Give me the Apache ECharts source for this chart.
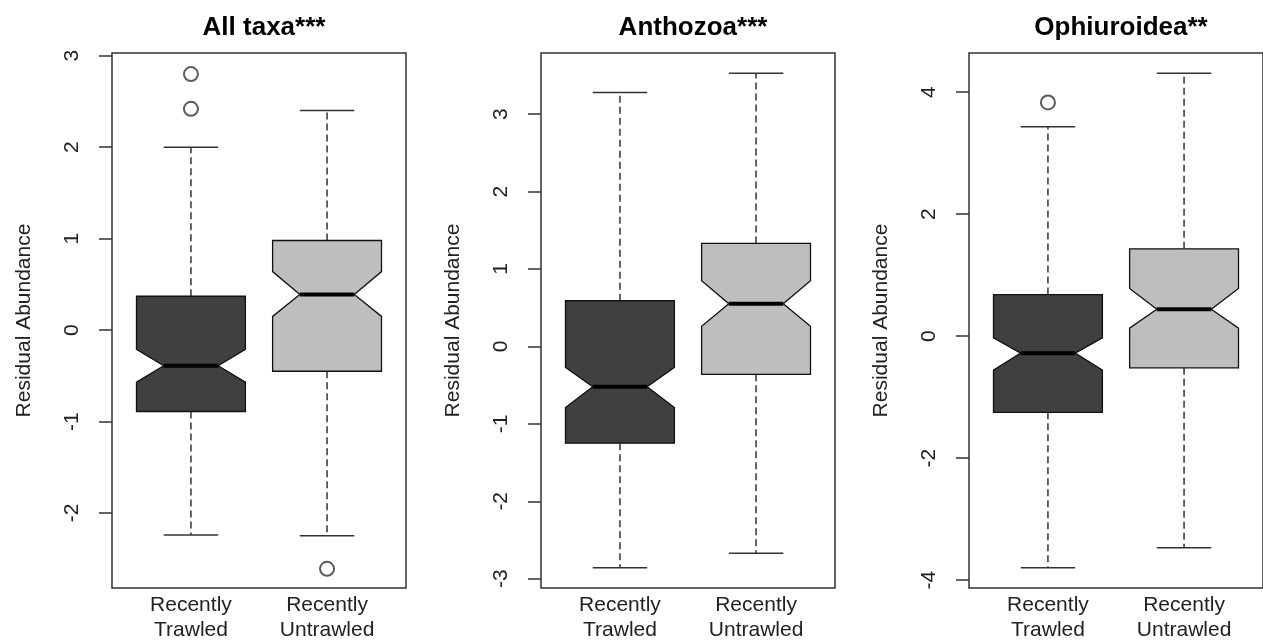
<!DOCTYPE html>
<html><head><meta charset="utf-8">
<script src="https://cdn.jsdelivr.net/npm/echarts@6/dist/echarts.min.js"></script>
<style>html,body{margin:0;padding:0;background:#fff}#c{width:1263px;height:640px}</style>
</head><body><div id="c"></div>
<script>
// ---- data ----
const panelTitles = ['All taxa***', 'Anthozoa***', 'Ophiuroidea**'];
const groupLabels = ['Recently\nTrawled', 'Recently\nUntrawled'];
const groupPositions = [1, 2];
// each: [lowerWhisker, Q1, notchLow, median, notchHigh, Q3, upperWhisker]
const allTaxaTrawled     = [-2.24, -0.89, -0.57, -0.39, -0.21, 0.37, 2.00];
const allTaxaUntrawled   = [-2.25, -0.45,  0.15,  0.39,  0.64, 0.98, 2.40];
const anthozoaTrawled    = [-2.86, -1.25, -0.79, -0.52, -0.27, 0.59, 3.28];
const anthozoaUntrawled  = [-2.67, -0.36,  0.26,  0.55,  0.85, 1.33, 3.53];
const ophiuroTrawled     = [-3.80, -1.25, -0.56, -0.28, -0.03, 0.68, 3.43];
const ophiuroUntrawled   = [-3.47, -0.52,  0.13,  0.44,  0.78, 1.43, 4.31];
// outliers: [groupPosition, value]
const allTaxaOutliers  = [[1, 2.80], [1, 2.42], [2, -2.61]];
const anthozoaOutliers = [];
const ophiuroOutliers  = [[1, 3.83]];
// y tick labels and axis limits
const allTaxaTicks  = [-2, -1, 0, 1, 2, 3];
const anthozoaTicks = [-3, -2, -1, 0, 1, 2, 3];
const ophiuroTicks  = [-4, -2, 0, 2, 4];
const allTaxaLimits  = [-2.82, 3.03];
const anthozoaLimits = [-3.12, 3.79];
const ophiuroLimits  = [-4.13, 4.64];
const xLimits = [0.42, 2.58];
const yName = 'Residual Abundance';

// ---- styles / layout ----
const fills = ['#404040', '#bebebe'];
const gridLefts = [112, 541, 969];
const gridWidth = 294;
const FONT = 'Liberation Sans, Arial, sans-serif';

const panels = [
  {boxes: [allTaxaTrawled, allTaxaUntrawled], out: allTaxaOutliers, ticks: allTaxaTicks, lim: allTaxaLimits},
  {boxes: [anthozoaTrawled, anthozoaUntrawled], out: anthozoaOutliers, ticks: anthozoaTicks, lim: anthozoaLimits},
  {boxes: [ophiuroTrawled, ophiuroUntrawled], out: ophiuroOutliers, ticks: ophiuroTicks, lim: ophiuroLimits}
];

function renderBox(params, api) {
  const x = api.value(0);
  const lw = api.value(1), q1 = api.value(2), nl = api.value(3), md = api.value(4),
        nh = api.value(5), q3 = api.value(6), uw = api.value(7);
  const hw = 0.4, nw = 0.2, cw = 0.2;
  const P = (a, b) => api.coord([a, b]);
  const wStyle = {stroke: '#333', lineWidth: 1.5, lineDash: [7, 4], fill: null};
  const cStyle = {stroke: '#333', lineWidth: 1.5, fill: null};
  const line = (p1, p2, style) => ({type: 'line', shape: {x1: p1[0], y1: p1[1], x2: p2[0], y2: p2[1]}, style: style});
  const pts = [P(x - hw, q1), P(x - hw, nl), P(x - nw, md), P(x - hw, nh), P(x - hw, q3),
               P(x + hw, q3), P(x + hw, nh), P(x + nw, md), P(x + hw, nl), P(x + hw, q1)];
  return {
    type: 'group',
    children: [
      line(P(x, q3), P(x, uw), wStyle),
      line(P(x, q1), P(x, lw), wStyle),
      line(P(x - cw, uw), P(x + cw, uw), cStyle),
      line(P(x - cw, lw), P(x + cw, lw), cStyle),
      {type: 'polygon', shape: {points: pts}, style: {fill: fills[params.dataIndex], stroke: '#111', lineWidth: 1.3}},
      line(P(x - nw, md), P(x + nw, md), {stroke: '#000', lineWidth: 4})
    ]
  };
}

const grid = [], xAxis = [], yAxis = [], series = [], title = [];
panels.forEach((p, i) => {
  grid.push({left: gridLefts[i], width: gridWidth, top: 53, bottom: 52, show: true, outerBoundsMode: 'none',
             containLabel: false, borderColor: '#333', borderWidth: 1.5, backgroundColor: 'transparent'});
  title.push({text: panelTitles[i], left: gridLefts[i] + gridWidth / 2, textAlign: 'center', top: 10,
              textStyle: {fontFamily: FONT, fontSize: 26, fontWeight: 'bold', color: '#000'}});
  xAxis.push({
    type: 'value', gridIndex: i, min: xLimits[0], max: xLimits[1],
    splitLine: {show: false}, axisLine: {show: false},
    axisTick: {show: true, customValues: groupPositions, length: 13, lineStyle: {color: '#333', width: 1.5}},
    axisLabel: {customValues: groupPositions, margin: 5, fontFamily: FONT, fontSize: 21, lineHeight: 25, color: '#222',
                formatter: v => groupLabels[groupPositions.indexOf(Math.round(v))] || ''}
  });
  yAxis.push({
    type: 'value', gridIndex: i, min: p.lim[0], max: p.lim[1],
    splitLine: {show: false}, axisLine: {show: false},
    axisTick: {show: true, customValues: p.ticks, length: 13, lineStyle: {color: '#333', width: 1.5}},
    axisLabel: {customValues: p.ticks, rotate: 90, margin: 29, fontFamily: FONT, fontSize: 21, color: '#222',
                formatter: v => String(Math.round(v))},
    name: yName, nameLocation: 'middle', nameGap: 77,
    nameTextStyle: {fontFamily: FONT, fontSize: 21, color: '#222'}
  });
  series.push({
    type: 'custom', xAxisIndex: i, yAxisIndex: i, renderItem: renderBox, silent: true,
    encode: {x: 0, y: [1, 2, 3, 4, 5, 6, 7]},
    data: p.boxes.map((b, j) => [groupPositions[j]].concat(b))
  });
  series.push({
    type: 'scatter', xAxisIndex: i, yAxisIndex: i, symbol: 'emptyCircle', symbolSize: 14, silent: true,
    itemStyle: {color: '#333', borderColor: '#333', borderWidth: 1.5},
    data: p.out
  });
});

const chart = echarts.init(document.getElementById('c'), null, {renderer: 'canvas'});
chart.setOption({animation: false, backgroundColor: '#fff', title, grid, xAxis, yAxis, series});
</script>
</body></html>
